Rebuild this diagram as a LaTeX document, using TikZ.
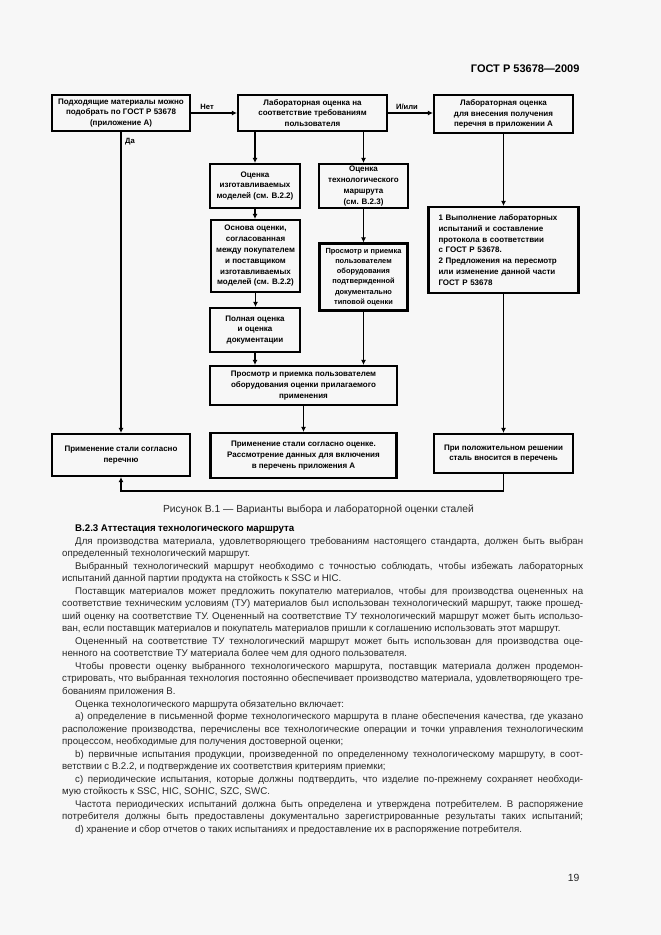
\documentclass[tikz,border=0pt]{standalone}
\usepackage{fontspec}
\setmainfont{Liberation Sans}
\usetikzlibrary{arrows.meta}

\definecolor{pagebg}{RGB}{247,247,247}
\definecolor{bodytext}{RGB}{40,40,40}

\newcommand{\jline}[1]{\noindent\makebox[\linewidth][s]{#1}\par}
\newcommand{\lline}[1]{\noindent\makebox[\linewidth][l]{#1}\par}

\begin{document}
\begin{tikzpicture}[x=1pt,y=-1pt,
  box/.style={draw, line width=2.2pt, inner sep=0pt, align=center,
    font=\bfseries\fontsize{8}{10.8}\selectfont},
  link/.style={line width=1.8pt, -{Latex[length=5pt,width=5pt]}},
  thinlink/.style={link, line width=1.3pt},
  lbl/.style={font=\bfseries\fontsize{7.6}{9}\selectfont, inner sep=1pt}]

\useasboundingbox (0,0) rectangle (661,935);
\fill [pagebg] (0,0) rectangle (661,935);

\node [font=\bfseries\fontsize{11}{13}\selectfont, anchor=east] (gost) at (583,69) {ГОСТ Р 53678—2009};

% top row
\node [box, minimum width=138pt, minimum height=36pt] (pick) at (121,113)
  {Подходящие материалы можно\\подобрать по ГОСТ Р 53678\\(приложение А)};
\node [box, minimum width=149pt, minimum height=36pt] (labuser) at (312.5,113)
  {Лабораторная оценка на\\соответствие требованиям\\пользователя};
\node [box, minimum width=139pt, minimum height=38pt] (labcat) at (503.5,114)
  {Лабораторная оценка\\для внесения получения\\перечня в приложении А};

% middle column
\node [box, minimum width=90pt, minimum height=44pt] (models) at (255,186)
  {Оценка\\изготавливаемых\\моделей (см. В.2.2)};
\node [box, minimum width=89pt, minimum height=44pt] (route) at (363.5,186)
  {Оценка\\технологического\\маршрута\\(см. В.2.3)};
\node [box, minimum width=89pt, minimum height=72pt] (basis) at (255.5,256)
  {Основа оценки,\\согласованная\\между покупателем\\и поставщиком\\изготавливаемых\\моделей (см. В.2.2)};
\node [box, minimum width=88pt, minimum height=67pt, font=\bfseries\fontsize{7.4}{10.2}\selectfont] (typeacc) at (363.5,277)
  {Просмотр и приемка\\пользователем\\оборудования\\подтвержденной\\документально\\типовой оценки};
\node [box, minimum width=90pt, minimum height=44pt] (full) at (255,330)
  {Полная оценка\\и оценка\\документации};
\node [box, minimum width=187pt, minimum height=39pt] (appacc) at (303.5,385.5)
  {Просмотр и приемка пользователем\\оборудования оценки прилагаемого\\применения};

% right column
\node [box, align=left, minimum width=150pt, minimum height=86pt, text width=130pt] (tests) at (503.5,250)
  {1 Выполнение лабораторных\\испытаний и составление\\протокола в соответствии\\с ГОСТ Р 53678.\\2 Предложения на пересмотр\\или изменение данной части\\ГОСТ Р 53678};

% bottom row
\node [box, minimum width=138pt, minimum height=42pt] (usepick) at (121,455)
  {Применение стали согласно\\перечню};
\node [box, minimum width=186pt, minimum height=45pt] (useeval) at (303.5,455.5)
  {Применение стали согласно оценке.\\Рассмотрение данных для включения\\в перечень приложения А};
\node [box, minimum width=139pt, minimum height=39pt] (addcat) at (503.5,453.5)
  {При положительном решении\\сталь вносится в перечень};

% connectors
\draw [thinlink] (pick.east) -- (labuser.west) node [lbl, pos=0.35, above=2pt] (no) {Нет};
\draw [thinlink] (labuser.east) -- (labuser.east -| labcat.west) node [lbl, pos=0.42, above=2pt] (andor) {И/или};
\draw [thinlink] (pick.south) -- (usepick.north);
\node [lbl, anchor=west] (yes) at (124,142) {Да};

\draw [link] (models.north |- labuser.south) -- (models.north);
\draw [link] (route.north |- labuser.south) -- (route.north);
\draw [link] (models.south) -- (basis.north -| models.south);
\draw [link] (basis.south) -- (full.north -| basis.south);
\draw [link] (full.south) -- (appacc.north -| full.south);
\draw [link] (route.south) -- (typeacc.north);
\draw [link] (typeacc.south) -- (appacc.north -| typeacc.south);
\draw [link] (appacc.south) -- (useeval.north);

\draw [link] (labcat.south) -- (tests.north);
\draw [link] (tests.south) -- (addcat.north);
\draw [thinlink] (addcat.south) -- ++(0,17) -| (usepick.south);

\node [font=\fontsize{10.3}{12}\selectfont, text=bodytext] (caption) at (318.5,510)
  {Рисунок В.1 — Варианты выбора и лабораторной оценки сталей};

% text below the figure
\node [anchor=north west, inner sep=0pt, text width=521pt, text=bodytext,
  font=\fontsize{9.7}{12.54}\selectfont] (body) at (62,524.5) {%
\spaceskip=.26em plus .3em minus .1em
\lline{\hspace*{13pt}\textcolor{black}{\bfseries В.2.3 Аттестация технологического маршрута}}
\jline{\hspace*{13pt}Для производства материала, удовлетворяющего требованиям настоящего стандарта, должен быть выбран}
\lline{определенный технологический маршрут.}
\jline{\hspace*{13pt}Выбранный технологический маршрут необходимо с точностью соблюдать, чтобы избежать лабораторных}
\lline{испытаний данной партии продукта на стойкость к SSC и HIC.}
\jline{\hspace*{13pt}Поставщик материалов может предложить покупателю материалов, чтобы для производства оцененных на}
\jline{соответствие техническим условиям (ТУ) материалов был использован технологический маршрут, также прошед-}
\jline{ший оценку на соответствие ТУ. Оцененный на соответствие ТУ технологический маршрут может быть использо-}
\lline{ван, если поставщик материалов и покупатель материалов пришли к соглашению использовать этот маршрут.}
\jline{\hspace*{13pt}Оцененный на соответствие ТУ технологический маршрут может быть использован для производства оце-}
\lline{ненного на соответствие ТУ материала более чем для одного пользователя.}
\jline{\hspace*{13pt}Чтобы провести оценку выбранного технологического маршрута, поставщик материала должен продемон-}
\jline{стрировать, что выбранная технология постоянно обеспечивает производство материала, удовлетворяющего тре-}
\lline{бованиям приложения В.}
\lline{\hspace*{13pt}Оценка технологического маршрута обязательно включает:}
\jline{\hspace*{13pt}а) определение в письменной форме технологического маршрута в плане обеспечения качества, где указано}
\jline{расположение производства, перечислены все технологические операции и точки управления технологическим}
\lline{процессом, необходимые для получения достоверной оценки;}
\jline{\hspace*{13pt}b) первичные испытания продукции, произведенной по определенному технологическому маршруту, в соот-}
\lline{ветствии с В.2.2, и подтверждение их соответствия критериям приемки;}
\jline{\hspace*{13pt}с) периодические испытания, которые должны подтвердить, что изделие по-прежнему сохраняет необходи-}
\lline{мую стойкость к SSC, HIC, SOHIC, SZC, SWC.}
\jline{\hspace*{13pt}Частота периодических испытаний должна быть определена и утверждена потребителем. В распоряжение}
\jline{потребителя должны быть предоставлены документально зарегистрированные результаты таких испытаний;}
\lline{\hspace*{13pt}d) хранение и сбор отчетов о таких испытаниях и предоставление их в распоряжение потребителя.}
};

\node [font=\fontsize{10.4}{12}\selectfont, anchor=east, text=bodytext] (pagenum) at (583,878) {19};

\end{tikzpicture}
\end{document}
